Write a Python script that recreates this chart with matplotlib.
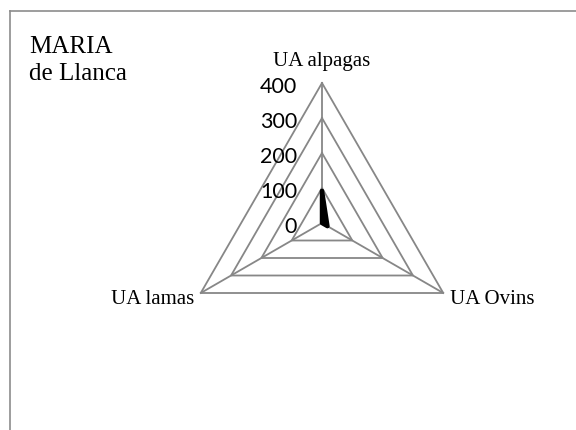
import numpy as np
import matplotlib
matplotlib.use('Agg')
import matplotlib.pyplot as plt
from matplotlib.lines import Line2D

# Data
categories = ['UA alpagas', 'UA Ovins', 'UA lamas']
values = [92, 18, 0]
rings = [100, 200, 300, 400]
tick_labels = ['0', '100', '200', '300', '400']
title_lines = ['MARIA', 'de Llanca']

W, H = 576, 430
cx, cy = 322, 223          # centre in pixels (from top-left)
px_per_unit = 0.35

fig = plt.figure(figsize=(W / 100, H / 100), dpi=100)
ax = fig.add_axes([0, 0, 1, 1])
ax.set_xlim(-cx / px_per_unit, (W - cx) / px_per_unit)
ax.set_ylim(-(H - cy) / px_per_unit, cy / px_per_unit)
ax.axis('off')

# clockwise from top, like Excel
angles = np.deg2rad(90 - np.arange(len(categories)) * 360 / len(categories))
closed = np.append(angles, angles[0])

grid_col = '#878787'
for r in rings:
    ax.plot(r * np.cos(closed), r * np.sin(closed), color=grid_col, lw=1.3, zorder=1)
for a in angles:
    ax.plot([0, rings[-1] * np.cos(a)], [0, rings[-1] * np.sin(a)],
            color=grid_col, lw=1.3, zorder=1)

# data series
v = np.append(values, values[0])
ax.fill(v * np.cos(closed), v * np.sin(closed), facecolor='black',
        edgecolor='black', lw=3.2, joinstyle='round', zorder=3)

# value labels along the top axis
for i, t in enumerate(tick_labels):
    r = i * 100
    ax.text(-25 / px_per_unit, r - 4 / px_per_unit, t, family='Lato', fontsize=15.5,
            ha='right', va='center', color='black')

# category labels
serif = 'Liberation Serif'
rmax = rings[-1]
ax.text(0, rmax + 12 / px_per_unit, categories[0], family=serif, fontsize=15,
        ha='center', va='bottom')
ax.text(rmax * np.cos(angles[1]) + 7 / px_per_unit, rmax * np.sin(angles[1]) - 7 / px_per_unit,
        categories[1], family=serif, fontsize=15, ha='left', va='center')
ax.text(rmax * np.cos(angles[2]) - 7 / px_per_unit, rmax * np.sin(angles[2]) - 7 / px_per_unit,
        categories[2], family=serif, fontsize=15, ha='right', va='center')

# title, two lines
for line, base in zip(title_lines, [53, 80]):
    fig.text(29 / W, 1 - base / H, line, family=serif, fontsize=18,
             ha='left', va='baseline')

# chart frame (clipped at right and bottom)
frame_col = '#8c8c8c'
fig.add_artist(Line2D([10 / W, 10 / W], [0, 1 - 11 / H], transform=fig.transFigure,
                      color=frame_col, lw=1.2))
fig.add_artist(Line2D([10 / W, 1], [1 - 11 / H, 1 - 11 / H], transform=fig.transFigure,
                      color=frame_col, lw=1.2))

fig.savefig('out.png', dpi=100)
